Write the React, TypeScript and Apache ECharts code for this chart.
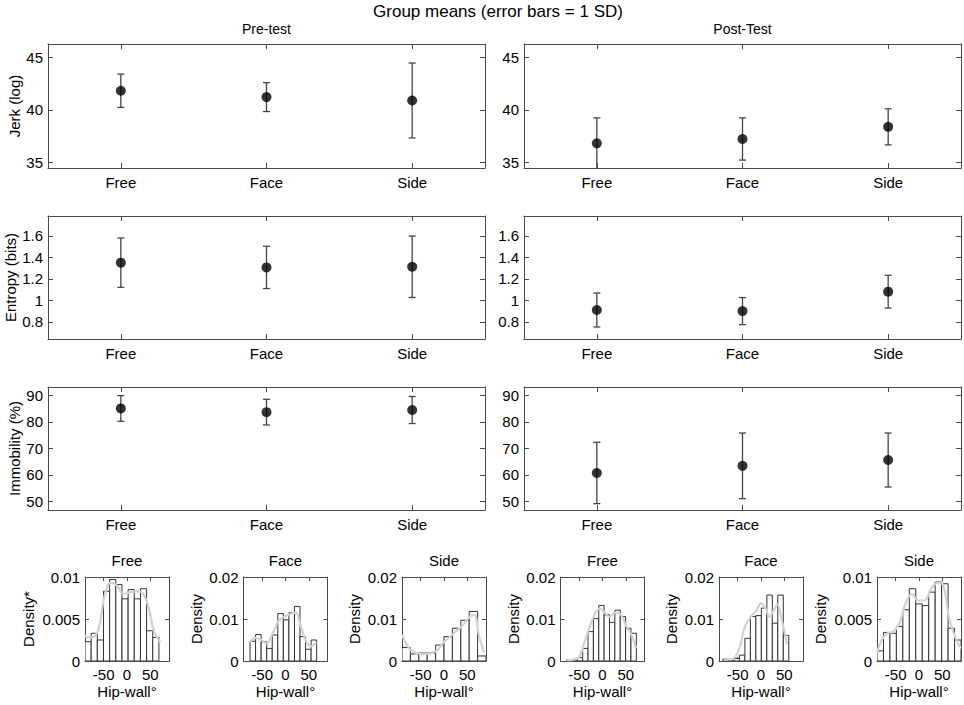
import React, { useEffect, useRef } from "react";
import * as echarts from "echarts";

// ---------- data ----------
const conditions = ["Free", "Face", "Side"];

const jerkPreMean = [41.82, 41.22, 40.9];
const jerkPreSD = [1.58, 1.37, 3.55];
const jerkPostMean = [36.84, 37.25, 38.4];
const jerkPostSD = [2.41, 2.0, 1.71];

const entropyPreMean = [1.351, 1.307, 1.313];
const entropyPreSD = [0.23, 0.197, 0.286];
const entropyPostMean = [0.91, 0.9, 1.081];
const entropyPostSD = [0.158, 0.126, 0.153];

const immobPreMean = [85.1, 83.7, 84.5];
const immobPreSD = [4.85, 4.85, 5.1];
const immobPostMean = [60.7, 63.4, 65.6];
const immobPostSD = [11.6, 12.4, 10.2];

const jerkTicks = [35, 40, 45];
const entropyTicks = [0.8, 1, 1.2, 1.4, 1.6];
const immobTicks = [50, 60, 70, 80, 90];
const angleTicks = [-50, 0, 50];
const densityTicksSmall = [0, 0.005, 0.01];
const densityTicksLarge = [0, 0.01, 0.02];

// histograms: densities per bin (bins of fixed width from a start angle)
const histPreFree = [0.0023, 0.0033, 0.0025, 0.0083, 0.0097, 0.0091, 0.0074, 0.0085, 0.0074, 0.0086, 0.0036, 0.0028];
const histPreFace = [0.0047, 0.0063, 0.0046, 0.003, 0.0062, 0.0113, 0.0098, 0.0115, 0.013, 0.0058, 0.0028, 0.005];
const histPreSide = [0.0032, 0.0017, 0.0019, 0.0019, 0.0038, 0.0058, 0.0078, 0.0097, 0.0118, 0.0012];
const histPostFree = [0.0003, 0.0002, 0.0008, 0.003, 0.007, 0.0101, 0.0132, 0.011, 0.0092, 0.0121, 0.0106, 0.0078, 0.0066];
const histPostFace = [0.0005, 0.0002, 0.0006, 0.0014, 0.0054, 0.0106, 0.0108, 0.0126, 0.0157, 0.009, 0.0157, 0.0061];
const histPostSide = [0.0012, 0.0034, 0.0033, 0.0041, 0.0061, 0.0086, 0.0068, 0.0066, 0.0082, 0.0094, 0.0092, 0.0039, 0.0025];

const binStarts = [-90, -76, -90, -77, -81.5, -90];
const binWidths = [13.2, 11.9, 18, 11.5, 11.75, 13.85];

// smoothed density estimates (angle, density)
const curvePreFree = [[-90, 0.003], [-80, 0.0028], [-68, 0.003], [-58, 0.0045], [-48, 0.0078], [-35, 0.0093], [-22, 0.009], [-8, 0.008], [8, 0.0082], [22, 0.0083], [35, 0.008], [48, 0.006], [58, 0.0035], [72, 0.0022]];
const curvePreFace = [[-76, 0.0045], [-65, 0.0055], [-52, 0.005], [-40, 0.0042], [-28, 0.0065], [-15, 0.0095], [-3, 0.0105], [10, 0.0112], [22, 0.0115], [32, 0.0085], [45, 0.0045], [55, 0.0035], [66, 0.0045]];
const curvePreSide = [[-90, 0.0062], [-80, 0.004], [-70, 0.0025], [-50, 0.0017], [-35, 0.0017], [-15, 0.0025], [0, 0.0045], [20, 0.0065], [40, 0.0085], [55, 0.0105], [65, 0.011], [75, 0.006], [86, 0.002]];
const curvePostFree = [[-77, 0.0002], [-60, 0.0004], [-50, 0.001], [-40, 0.004], [-28, 0.008], [-15, 0.0115], [-5, 0.0125], [5, 0.0115], [15, 0.0105], [27, 0.0115], [38, 0.0112], [50, 0.0085], [62, 0.0062], [72, 0.003]];
const curvePostFace = [[-80, 0.0004], [-65, 0.0004], [-55, 0.001], [-45, 0.0035], [-35, 0.008], [-22, 0.0105], [-10, 0.012], [0, 0.0138], [10, 0.0125], [18, 0.0105], [27, 0.012], [35, 0.0135], [45, 0.0095], [56, 0.004]];
const curvePostSide = [[-90, 0.001], [-80, 0.0025], [-68, 0.0033], [-55, 0.0035], [-42, 0.0045], [-28, 0.007], [-15, 0.008], [-2, 0.0072], [12, 0.0072], [25, 0.0085], [40, 0.0093], [52, 0.009], [65, 0.005], [78, 0.0028], [90, 0.0015]];

// ---------- layout / style ----------
const FONT = "'Liberation Sans', Arial, Helvetica, sans-serif";
const AXIS = "#4a4a4a";
const colLeft = [48, 524];
const panelW = 437;
const rowTop = [44, 216, 387];
const panelH = [124, 123, 123];
const histLeft = [85, 243.5, 402, 560.5, 719, 877];
const histTop = 577;
const histW = 84;
const histH = 84;

const panels = [
  { mean: jerkPreMean, sd: jerkPreSD, min: 34.5, max: 46.25, ticks: jerkTicks, name: "Jerk (log)", gap: 26, row: 0, col: 0 },
  { mean: jerkPostMean, sd: jerkPostSD, min: 34.5, max: 46.25, ticks: jerkTicks, name: "", gap: 26, row: 0, col: 1 },
  { mean: entropyPreMean, sd: entropyPreSD, min: 0.64, max: 1.786, ticks: entropyTicks, name: "Entropy (bits)", gap: 30, row: 1, col: 0 },
  { mean: entropyPostMean, sd: entropyPostSD, min: 0.64, max: 1.786, ticks: entropyTicks, name: "", gap: 30, row: 1, col: 1 },
  { mean: immobPreMean, sd: immobPreSD, min: 46.7, max: 93.2, ticks: immobTicks, name: "Immobility (%)", gap: 26, row: 2, col: 0 },
  { mean: immobPostMean, sd: immobPostSD, min: 46.7, max: 93.2, ticks: immobTicks, name: "", gap: 26, row: 2, col: 1 },
];

const hists = [
  { title: "Free", yName: "Density*", dens: histPreFree, curve: curvePreFree, ymax: 0.01, ticks: densityTicksSmall, gap: 49 },
  { title: "Face", yName: "Density", dens: histPreFace, curve: curvePreFace, ymax: 0.02, ticks: densityTicksLarge, gap: 40 },
  { title: "Side", yName: "Density", dens: histPreSide, curve: curvePreSide, ymax: 0.02, ticks: densityTicksLarge, gap: 40 },
  { title: "Free", yName: "Density", dens: histPostFree, curve: curvePostFree, ymax: 0.02, ticks: densityTicksLarge, gap: 40 },
  { title: "Face", yName: "Density", dens: histPostFace, curve: curvePostFace, ymax: 0.02, ticks: densityTicksLarge, gap: 40 },
  { title: "Side", yName: "Density", dens: histPostSide, curve: curvePostSide, ymax: 0.01, ticks: densityTicksSmall, gap: 49 },
];

function buildOption() {
  const grid: any[] = [];
  const xAxis: any[] = [];
  const yAxis: any[] = [];
  const series: any[] = [];
  const graphic: any[] = [];

  const axisLine = { show: true, onZero: false, lineStyle: { color: AXIS, width: 1 } };
  const tickStyle = { color: AXIS, width: 1 };
  const labelStyle = { fontSize: 15, color: "#000", fontFamily: FONT };

  panels.forEach((p, g) => {
    grid.push({ left: colLeft[p.col], top: rowTop[p.row], width: panelW, height: panelH[p.row] });
    const tick = { show: true, inside: true, alignWithLabel: true, length: 5, lineStyle: tickStyle };
    xAxis.push({ gridIndex: g, type: "category", data: conditions, boundaryGap: true, position: "bottom", axisLine, axisTick: tick, axisLabel: { ...labelStyle, margin: 7 }, splitLine: { show: false } });
    xAxis.push({ gridIndex: g, type: "category", data: conditions, boundaryGap: true, position: "top", axisLine, axisTick: tick, axisLabel: { show: false }, splitLine: { show: false } });
    yAxis.push({
      gridIndex: g, type: "value", min: p.min, max: p.max, position: "left", axisLine,
      axisTick: { show: true, inside: true, length: 5, lineStyle: tickStyle, customValues: p.ticks },
      axisLabel: { ...labelStyle, margin: 5, customValues: p.ticks },
      splitLine: { show: false },
      name: p.name, nameLocation: "middle", nameGap: p.gap,
      nameTextStyle: { fontSize: 15, color: "#000", fontFamily: FONT },
    });
    yAxis.push({
      gridIndex: g, type: "value", min: p.min, max: p.max, position: "right", axisLine,
      axisTick: { show: true, inside: true, length: 5, lineStyle: tickStyle, customValues: p.ticks },
      axisLabel: { show: false }, splitLine: { show: false },
    });
    series.push({
      type: "custom", xAxisIndex: 2 * g, yAxisIndex: 2 * g, clip: true, z: 2,
      data: p.mean.map((m, i) => [i, m - p.sd[i], m + p.sd[i]]),
      renderItem: (params: any, api: any) => {
        const x = api.value(0);
        const lo = api.coord([x, api.value(1)]);
        const hi = api.coord([x, api.value(2)]);
        const cw = 3.5;
        const st = { stroke: "#454545", lineWidth: 1.3 };
        return {
          type: "group",
          children: [
            { type: "line", shape: { x1: lo[0], y1: lo[1], x2: hi[0], y2: hi[1] }, style: st },
            { type: "line", shape: { x1: lo[0] - cw, y1: lo[1], x2: lo[0] + cw, y2: lo[1] }, style: st },
            { type: "line", shape: { x1: hi[0] - cw, y1: hi[1], x2: hi[0] + cw, y2: hi[1] }, style: st },
          ],
        };
      },
    });
    series.push({
      type: "scatter", xAxisIndex: 2 * g, yAxisIndex: 2 * g, z: 3, symbol: "circle", symbolSize: 10,
      itemStyle: { color: "#000" }, data: p.mean.map((m, i) => [i, m]),
    });
  });

  hists.forEach((h, k) => {
    const g = panels.length + k;
    grid.push({ left: histLeft[k], top: histTop, width: histW, height: histH });
    const xt = { show: true, inside: true, length: 4, lineStyle: tickStyle, customValues: angleTicks };
    const yt = { show: true, inside: true, length: 4, lineStyle: tickStyle, customValues: h.ticks };
    xAxis.push({
      gridIndex: g, type: "value", min: -90, max: 90, position: "bottom", axisLine, axisTick: xt,
      axisLabel: { ...labelStyle, margin: 6, customValues: angleTicks }, splitLine: { show: false },
      name: "Hip-wall°", nameLocation: "middle", nameGap: 23,
      nameTextStyle: { fontSize: 15, color: "#000", fontFamily: FONT },
    });
    xAxis.push({ gridIndex: g, type: "value", min: -90, max: 90, position: "top", axisLine, axisTick: xt, axisLabel: { show: false }, splitLine: { show: false } });
    yAxis.push({
      gridIndex: g, type: "value", min: 0, max: h.ymax, position: "left", axisLine, axisTick: yt,
      axisLabel: { ...labelStyle, margin: 5, customValues: h.ticks }, splitLine: { show: false },
      name: h.yName, nameLocation: "middle", nameGap: h.gap,
      nameTextStyle: { fontSize: 15, color: "#000", fontFamily: FONT },
    });
    yAxis.push({ gridIndex: g, type: "value", min: 0, max: h.ymax, position: "right", axisLine, axisTick: yt, axisLabel: { show: false }, splitLine: { show: false } });

    const start = binStarts[k];
    const w = binWidths[k];
    series.push({
      type: "custom", xAxisIndex: 2 * g, yAxisIndex: 2 * g, clip: true, z: 2,
      data: h.dens.map((d, i) => [start + i * w, start + (i + 1) * w, d]),
      renderItem: (params: any, api: any) => {
        const a = api.coord([api.value(0), api.value(2)]);
        const b = api.coord([api.value(1), 0]);
        return {
          type: "rect",
          shape: { x: a[0], y: a[1], width: b[0] - a[0], height: b[1] - a[1] },
          style: { fill: "#ffffff", stroke: "#333333", lineWidth: 1 },
        };
      },
    });
    series.push({
      type: "line", xAxisIndex: 2 * g, yAxisIndex: 2 * g, z: 3, smooth: 0.4, showSymbol: false, clip: true,
      lineStyle: { color: "#d2d2d2", width: 2.2 }, data: h.curve,
    });

    graphic.push({
      type: "text", x: histLeft[k] + histW / 2, y: 560,
      style: { text: h.title, fontSize: 15, fontFamily: FONT, fill: "#000", textAlign: "center", textVerticalAlign: "middle" },
    });
  });

  graphic.push({
    type: "text", x: 498, y: 11,
    style: { text: "Group means (error bars = 1 SD)", fontSize: 17, fontFamily: FONT, fill: "#000", textAlign: "center", textVerticalAlign: "middle" },
  });
  graphic.push({
    type: "text", x: colLeft[0] + panelW / 2, y: 28.5,
    style: { text: "Pre-test", fontSize: 14, fontFamily: FONT, fill: "#000", textAlign: "center", textVerticalAlign: "middle" },
  });
  graphic.push({
    type: "text", x: colLeft[1] + panelW / 2, y: 28.5,
    style: { text: "Post-Test", fontSize: 14, fontFamily: FONT, fill: "#000", textAlign: "center", textVerticalAlign: "middle" },
  });

  return {
    animation: false,
    backgroundColor: "#ffffff",
    textStyle: { fontFamily: FONT },
    grid, xAxis, yAxis, series, graphic,
  };
}

export default function App() {
  const ref = useRef<HTMLDivElement>(null);
  useEffect(() => {
    if (!ref.current) return;
    const chart = echarts.init(ref.current, undefined, { renderer: "svg" });
    chart.setOption(buildOption() as any);
    return () => chart.dispose();
  }, []);
  return <div ref={ref} style={{ position: "fixed", left: 0, top: 0, width: 964, height: 705, background: "#fff" }} />;
}
